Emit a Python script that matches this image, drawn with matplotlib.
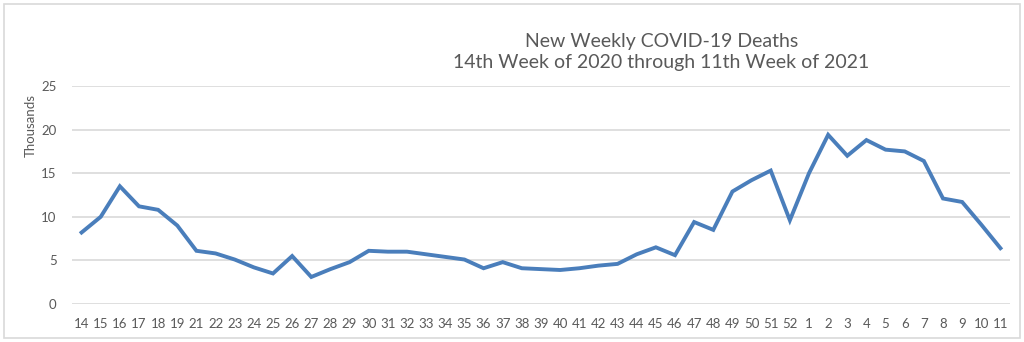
import matplotlib.pyplot as plt
from matplotlib.patches import Rectangle

weeks = ["14", "15", "16", "17", "18", "19", "21", "22", "23", "24", "25", "26", "27", "28", "29",
         "30", "31", "32", "33", "34", "35", "36", "37", "38", "39", "40", "41", "42", "43", "44",
         "45", "46", "47", "48", "49", "50", "51", "52",
         "1", "2", "3", "4", "5", "6", "7", "8", "9", "10", "11"]
deaths = [8.2, 10.0, 13.5, 11.2, 10.8, 9.0, 6.1, 5.8, 5.1, 4.2, 3.5, 5.5, 3.1, 4.0, 4.8,
          6.1, 6.0, 6.0, 5.7, 5.4, 5.1, 4.1, 4.8, 4.1, 4.0, 3.9, 4.1, 4.4, 4.6, 5.7,
          6.5, 5.6, 9.4, 8.5, 12.9, 14.2, 15.3, 9.6,
          15.0, 19.4, 17.0, 18.8, 17.7, 17.5, 16.4, 12.1, 11.7, 9.1, 6.4]

plt.rcParams['font.family'] = ['Lato', 'DejaVu Sans']
grey = "#595959"

fig = plt.figure(figsize=(10.24, 3.42), dpi=100)
ax = fig.add_axes([72/1024, 38/342, 938/1024, 218/342])

x = range(len(weeks))
ax.plot(x, deaths, color="#4A7EBB", lw=2.8, solid_joinstyle="miter", zorder=3)

ax.set_xlim(-0.5, len(weeks) - 0.5)
ax.set_ylim(0, 25)
ax.set_yticks([0, 5, 10, 15, 20, 25])
ax.set_xticks(list(x))
ax.set_xticklabels(weeks)
ax.tick_params(axis="both", length=0, labelsize=9.5, labelcolor=grey)
ax.tick_params(axis="y", pad=11)
ax.tick_params(axis="x", pad=10)
ax.grid(axis="y", color="#D9D9D9", lw=1.2)
ax.set_axisbelow(True)
for s in ax.spines.values():
    s.set_visible(False)
ax.set_ylabel("Thousands", color=grey, fontsize=9.5)
ax.yaxis.set_label_coords(-35/938, 0.82)

fig.text(0.646, 0.878, "New Weekly COVID-19 Deaths", ha="center", va="center",
         fontsize=14, color=grey)
fig.text(0.646, 0.816, "14th Week of 2020 through 11th Week of 2021", ha="center",
         va="center", fontsize=14, color=grey)

fig.patches.append(Rectangle((4/1024, 4/342), 1016/1024, 334/342, transform=fig.transFigure,
                             fill=False, edgecolor="#D9D9D9", lw=1.2))

fig.savefig("out.png", dpi=100)
